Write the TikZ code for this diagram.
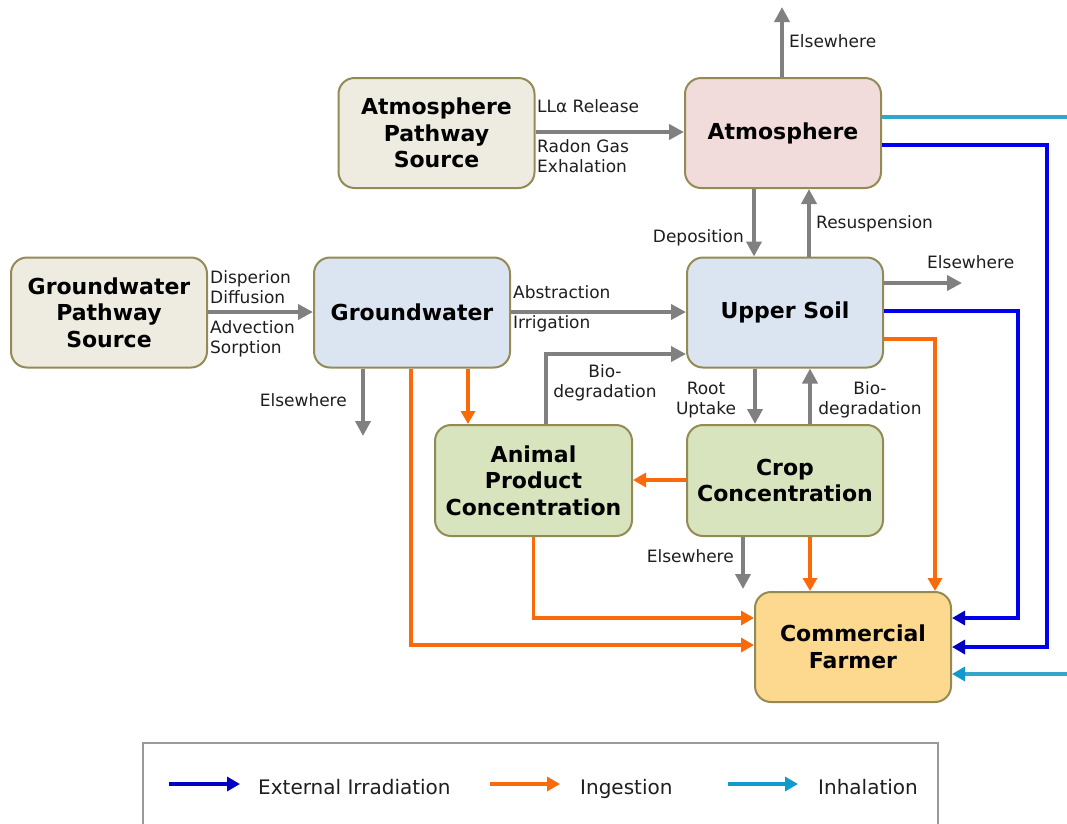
\documentclass[tikz,border=0pt]{standalone}
\usepackage{fontspec}
\setmainfont{DejaVu Sans}
\usetikzlibrary{arrows.meta}

\definecolor{olive}{HTML}{948A54}
\definecolor{tanfill}{HTML}{EEECE1}
\definecolor{pinkfill}{HTML}{F2DCDB}
\definecolor{bluefill}{HTML}{DBE5F1}
\definecolor{greenfill}{HTML}{D7E4BD}
\definecolor{goldfill}{HTML}{FDD88F}
\definecolor{flowgray}{HTML}{808080}
\definecolor{ingest}{HTML}{FA690A}
\definecolor{extirr}{HTML}{0000EE}
\definecolor{extirrtip}{HTML}{0000C4}
\definecolor{inhal}{HTML}{34A6CC}
\definecolor{inhaltip}{HTML}{119BCC}
\definecolor{labeltext}{HTML}{1E1E1E}

\tikzset{
  box/.style={draw=olive, line width=2pt, rounded corners=16pt,
    minimum width=196pt, minimum height=110pt, inner sep=0pt,
    align=center, font=\bfseries\fontsize{22}{26.5}\selectfont},
  lbl/.style={inner sep=0pt, text=labeltext, font=\fontsize{17}{20}\selectfont},
  legtext/.style={inner sep=0pt, text=labeltext, font=\fontsize{20}{24}\selectfont},
  grayflow/.style={draw=flowgray, line width=4.5pt,
    -{Triangle[length=15pt,width=15pt]}},
  ingflow/.style={draw=ingest, line width=3.5pt,
    -{Triangle[length=13pt,width=14pt]}},
  extflow/.style={draw=extirr, line width=3.5pt,
    -{Triangle[length=13pt,width=14pt,color=extirrtip]}},
  inhflow/.style={draw=inhal, line width=3.5pt,
    -{Triangle[length=13pt,width=14pt,color=inhaltip]}},
}

\begin{document}
\begin{tikzpicture}[x=1pt, y=-1pt]
\useasboundingbox (0,0) rectangle (1067,823);
\clip (0,0) rectangle (1067,823);

% compartments
\node[box, fill=tanfill]   (aps)  at (436.5,133)   {Atmosphere\\Pathway\\Source};
\node[box, fill=pinkfill]  (atm)  at (783,133)     {Atmosphere};
\node[box, fill=tanfill]   (gps)  at (109,312.5)   {Groundwater\\Pathway\\Source};
\node[box, fill=bluefill]  (gw)   at (412,312.5)   {Groundwater};
\node[box, fill=bluefill]  (us)   at (785,312.5)   {Upper Soil};
\node[box, fill=greenfill, minimum width=197pt, minimum height=111pt]
                           (ani)  at (533.5,480.5) {Animal\\Product\\Concentration};
\node[box, fill=greenfill, minimum height=111pt]
                           (crop) at (785,480.5)   {Crop\\Concentration};
\node[box, fill=goldfill]  (farm) at (853,647)     {Commercial\\Farmer};

% loose ends of the "elsewhere" losses
\coordinate (atmout)  at (782,7);
\coordinate (usout)   at (962,283);
\coordinate (gwout)   at (363,436);
\coordinate (cropout) at (743,589);

% transfer pathways
\draw[grayflow] (aps.east |- 0,132) -- (atm.west |- 0,132);
\draw[grayflow] (atm.north -| 782,0) -- (atmout);
\draw[grayflow] (atm.south -| 754,0) -- (us.north -| 754,0);
\draw[grayflow] (us.north -| 809,0) -- (atm.south -| 809,0);
\draw[grayflow] (us.east |- 0,283) -- (usout);
\draw[grayflow] (gps.east |- 0,312) -- (gw.west |- 0,312);
\draw[grayflow] (gw.east |- 0,312) -- (us.west |- 0,312);
\draw[grayflow] (gw.south -| 363,0) -- (gwout);
\draw[grayflow] (ani.north -| 546,0) -- (546,354) -- (us.west |- 0,354);
\draw[grayflow] (us.south -| 755,0) -- (crop.north -| 755,0);
\draw[grayflow] (crop.north -| 810,0) -- (us.south -| 810,0);
\draw[grayflow] (crop.south -| 743,0) -- (cropout);

% ingestion
\draw[ingflow] (gw.south -| 468,0) -- (ani.north -| 468,0);
\draw[ingflow] (gw.south -| 411,0) -- (411,645) -- (farm.west |- 0,645);
\draw[ingflow] (crop.west |- 0,480) -- (ani.east |- 0,480);
\draw[ingflow] (ani.south) -- (ani.south |- 0,618) -- (farm.west |- 0,618);
\draw[ingflow] (crop.south -| 810,0) -- (farm.north -| 810,0);
\draw[ingflow] (us.east |- 0,339) -- (935,339) -- (farm.north -| 935,0);

% external irradiation
\draw[extflow] (us.east |- 0,311) -- (1018,311) -- (1018,618) -- (farm.east |- 0,618);
\draw[extflow] (atm.east |- 0,145) -- (1047,145) -- (1047,647) -- (farm.east |- 0,647);

% inhalation
\draw[inhflow] (atm.east |- 0,117) -- (1095,117) -- (1095,674) -- (farm.east |- 0,674);

% pathway labels (multi-line labels are placed by the baseline of their last line)
\node[lbl, anchor=base west] (llrel) at (537,112) {LLα Release};
\node[lbl, anchor=base west, align=left] (radon) at (537,172) {Radon Gas\\Exhalation};
\node[lbl, anchor=base west] (elsatm) at (789,47) {Elsewhere};
\node[lbl, anchor=base east] (dep) at (744,242) {Deposition};
\node[lbl, anchor=base west] (resus) at (816,228) {Resuspension};
\node[lbl, anchor=base west] (elsus) at (927,268) {Elsewhere};
\node[lbl, anchor=base west, align=left] (disp) at (210,303) {Disperion\\Diffusion};
\node[lbl, anchor=base west, align=left] (adv) at (210,353) {Advection\\Sorption};
\node[lbl, anchor=base west] (abst) at (513,298) {Abstraction};
\node[lbl, anchor=base west] (irr) at (513,328) {Irrigation};
\node[lbl, anchor=base east] (elsgw) at (347,406) {Elsewhere};
\node[lbl, anchor=base, align=center] (biol) at (605,397) {Bio-\\degradation};
\node[lbl, anchor=base, align=center] (root) at (706,414) {Root\\Uptake};
\node[lbl, anchor=base, align=center] (bior) at (870,414) {Bio-\\degradation};
\node[lbl, anchor=base east] (elscrop) at (734,562) {Elsewhere};

% legend
\draw[draw=flowgray!80, line width=2pt] (142.5,743) rectangle (937.5,860);
\coordinate (lgA1) at (169,784);  \coordinate (lgA2) at (240,784);
\coordinate (lgB1) at (490,784);  \coordinate (lgB2) at (560,784);
\coordinate (lgC1) at (728,784);  \coordinate (lgC2) at (798,784);
\draw[extflow, draw=extirrtip] (lgA1) -- (lgA2);
\draw[ingflow] (lgB1) -- (lgB2);
\draw[inhflow, draw=inhaltip] (lgC1) -- (lgC2);
\node[legtext, anchor=base west] (lgA) at (258,794) {External Irradiation};
\node[legtext, anchor=base west] (lgB) at (580,794) {Ingestion};
\node[legtext, anchor=base west] (lgC) at (818,794) {Inhalation};
\end{tikzpicture}
\end{document}
